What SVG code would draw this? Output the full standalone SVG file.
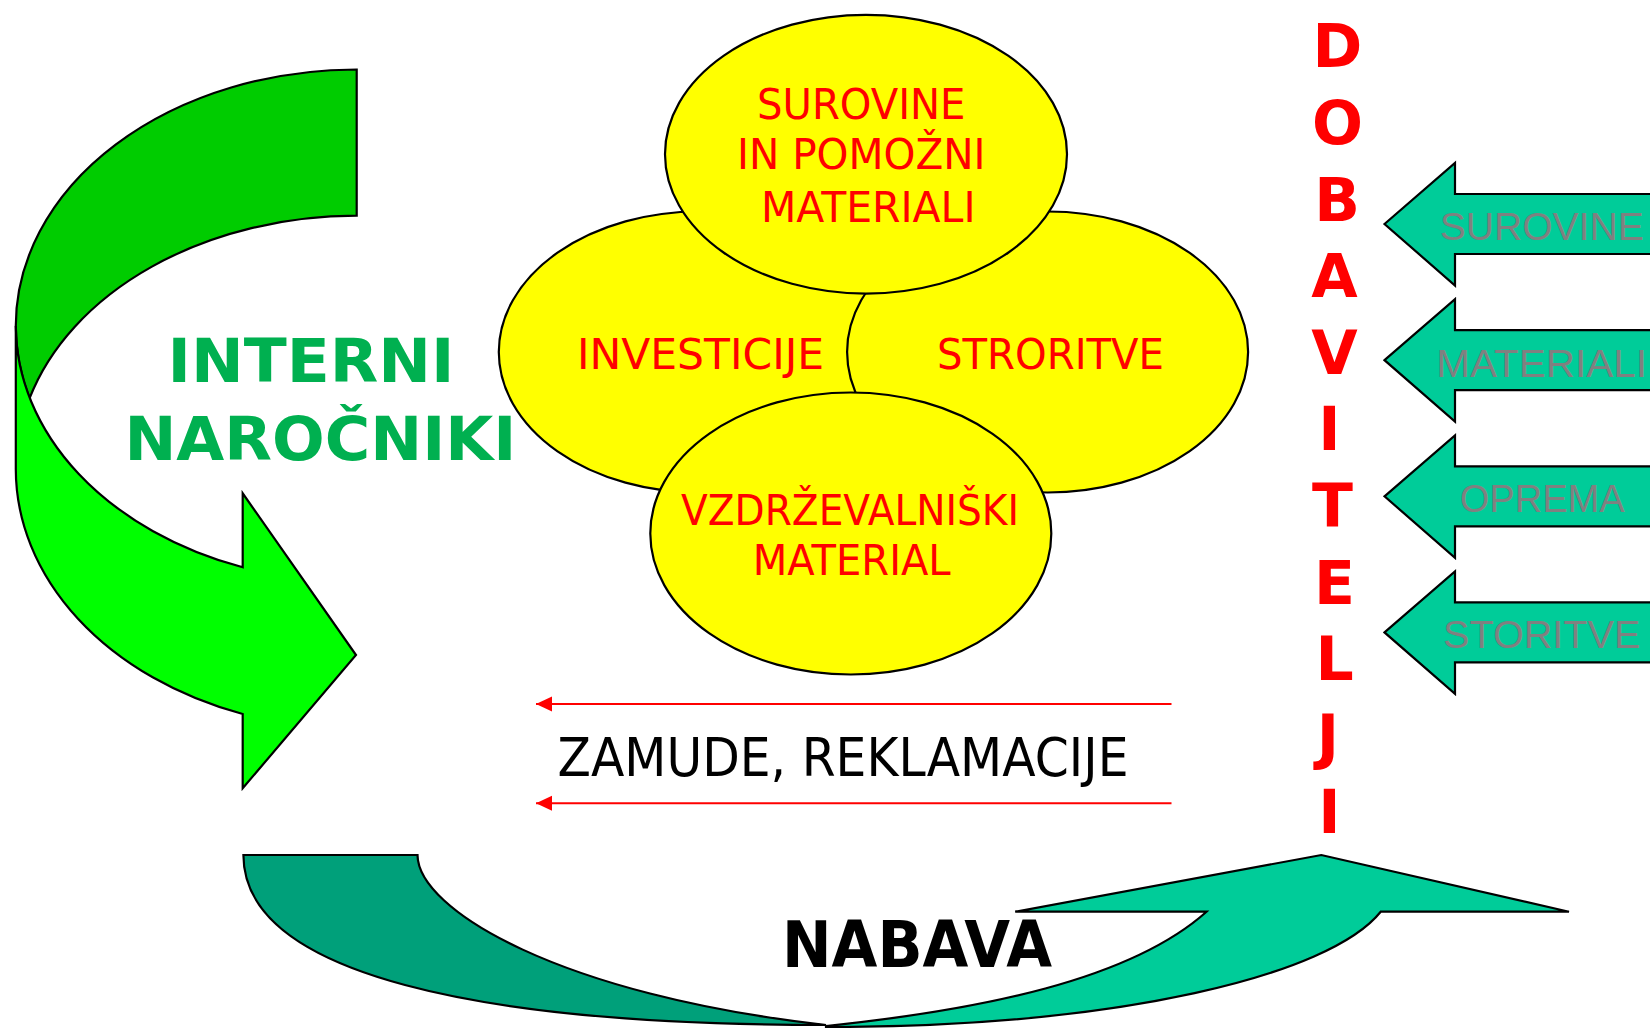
<svg xmlns="http://www.w3.org/2000/svg" width="1650" height="1028" viewBox="0 0 1650 1028">
<defs>
<style>
.shape{stroke:#000;stroke-width:2.2;stroke-linejoin:miter}
.ell{fill:#FFFF00;stroke:#000;stroke-width:2.2}
.red{font-family:"DejaVu Sans","Liberation Sans",sans-serif;font-size:42.5px;fill:#FF0000}
.gray{font-family:"Liberation Sans",Arial,sans-serif;font-size:39px;fill:#808080}
.dob{font-family:"DejaVu Sans","Liberation Sans",sans-serif;font-weight:bold;font-size:60px;fill:#FF0000;text-anchor:middle}
.grn{font-family:"DejaVu Sans","Liberation Sans",sans-serif;font-weight:bold;font-size:61px;fill:#00B050}
.teal{fill:#00CC99}
.conn{stroke:#FF0000;stroke-width:2;fill:none}
</style>
<marker id="redhead" viewBox="0 -8 16 16" refX="16" refY="0" markerWidth="16" markerHeight="16" markerUnits="userSpaceOnUse" orient="auto">
<path d="M0,-7.5 L16,0 L0,7.5 Z" fill="#FF0000"/>
</marker>
</defs>
<rect width="1650" height="1028" fill="#FFFFFF"/>

<g id="interni-narocniki">
<path class="shape" fill="#00CC00" d="M356.7,69.5 A341,256.5 0 0 0 15.8,326 A341,257 0 0 0 29.5,398.4 A341,252.6 0 0 1 356.7,215.7 Z"/>
<path class="shape" fill="#00FF00" d="M15.8,326 L15.8,468.3 A341,260 0 0 0 242.7,714 L242.7,788.3 L356,655 L242.7,493.3 L242.7,567.3 A341,257 0 0 1 15.8,326 Z"/>
<text class="grn" x="167.5" y="382" textLength="287" lengthAdjust="spacingAndGlyphs">INTERNI</text>
<text class="grn" x="124.4" y="460" textLength="392" lengthAdjust="spacingAndGlyphs">NAROČNIKI</text>
</g>

<g id="investicije">
<ellipse class="ell" cx="699.3" cy="352" rx="200.5" ry="140.5"/>
<text class="red" x="577" y="369" textLength="247" lengthAdjust="spacingAndGlyphs">INVESTICIJE</text>
</g>
<g id="strortive">
<ellipse class="ell" cx="1047.6" cy="352" rx="200.5" ry="140.5"/>
<text class="red" x="937" y="369" textLength="227" lengthAdjust="spacingAndGlyphs">STRORITVE</text>
</g>
<g id="surovine-pomozni">
<ellipse class="ell" cx="866" cy="154.2" rx="201" ry="139.4"/>
<text class="red" x="757" y="119.3" textLength="208.5" lengthAdjust="spacingAndGlyphs">SUROVINE</text>
<text class="red" x="737" y="169.3" textLength="248.5" lengthAdjust="spacingAndGlyphs">IN POMOŽNI</text>
<text class="red" x="761" y="221.7" textLength="214.5" lengthAdjust="spacingAndGlyphs">MATERIALI</text>
</g>
<g id="vzdrzevalniski">
<ellipse class="ell" cx="850.8" cy="533.5" rx="200.5" ry="141"/>
<text class="red" x="681" y="525" textLength="338" lengthAdjust="spacingAndGlyphs">VZDRŽEVALNIŠKI</text>
<text class="red" x="752.7" y="575" textLength="198" lengthAdjust="spacingAndGlyphs">MATERIAL</text>
</g>

<g id="dobavitelji">
<text class="dob" x="1337.5" y="67.3">D</text>
<text class="dob" x="1337.5" y="143.9">O</text>
<text class="dob" x="1337" y="220.5">B</text>
<text class="dob" x="1334.5" y="297.1">A</text>
<text class="dob" x="1334.5" y="373.7">V</text>
<text class="dob" x="1329.5" y="450.3">I</text>
<text class="dob" x="1332.5" y="526.9">T</text>
<text class="dob" x="1334.5" y="603.5">E</text>
<text class="dob" x="1334.5" y="680.1">L</text>
<text class="dob" x="1328" y="756.7">J</text>
<text class="dob" x="1329.5" y="833.3">I</text>
</g>

<g id="dobava-surovine">
<polygon class="shape teal" points="1384.5,224 1455,163 1455,194 1655,194 1655,254 1455,254 1455,285.5"/>
<text class="gray" x="1439.7" y="239.7" textLength="204" lengthAdjust="spacingAndGlyphs">SUROVINE</text>
</g>
<g id="dobava-materiali">
<polygon class="shape teal" points="1384.5,360.2 1455,299.2 1455,330.2 1655,330.2 1655,390.2 1455,390.2 1455,421.7"/>
<text class="gray" x="1436.3" y="376.5" textLength="210.7" lengthAdjust="spacingAndGlyphs">MATERIALI</text>
</g>
<g id="dobava-oprema">
<polygon class="shape teal" points="1384.5,496.3 1455,435.3 1455,466.3 1655,466.3 1655,526.3 1455,526.3 1455,557.8"/>
<text class="gray" x="1459.7" y="512" textLength="165" lengthAdjust="spacingAndGlyphs">OPREMA</text>
</g>
<g id="dobava-storitve">
<polygon class="shape teal" points="1384.5,632.4 1455,571.4 1455,602.4 1655,602.4 1655,662.4 1455,662.4 1455,693.9"/>
<text class="gray" x="1443" y="648.3" textLength="197.3" lengthAdjust="spacingAndGlyphs">STORITVE</text>
</g>

<g id="nabava">
<path class="shape" fill="#00A07A" d="M243.4,855 L417.5,855 C418,910 560,995 826,1025 C480,1025 243.4,975 243.4,855 Z"/>
<path class="shape" fill="#00CC99" d="M826,1026 C980,1010 1130,980 1206.5,911.7 L1015.2,911.7 L1321.3,855 L1569,911.7 L1380.7,911.7 C1330,975 1120,1027 826,1027 Z"/>
<text x="782" y="967" font-family="'DejaVu Sans','Liberation Sans',sans-serif" font-weight="bold" font-size="64" fill="#000000" textLength="270" lengthAdjust="spacingAndGlyphs">NABAVA</text>
</g>

<g id="connectors">
<line class="conn" x1="1171.5" y1="704" x2="536" y2="704" marker-end="url(#redhead)"/>
<line class="conn" x1="1171.5" y1="803.3" x2="536" y2="803.3" marker-end="url(#redhead)"/>
</g>
<g id="zamude-label">
<text x="557.5" y="776" font-family="'DejaVu Sans','Liberation Sans',sans-serif" font-size="53" fill="#000000" textLength="571" lengthAdjust="spacingAndGlyphs">ZAMUDE, REKLAMACIJE</text>
</g>
</svg>
